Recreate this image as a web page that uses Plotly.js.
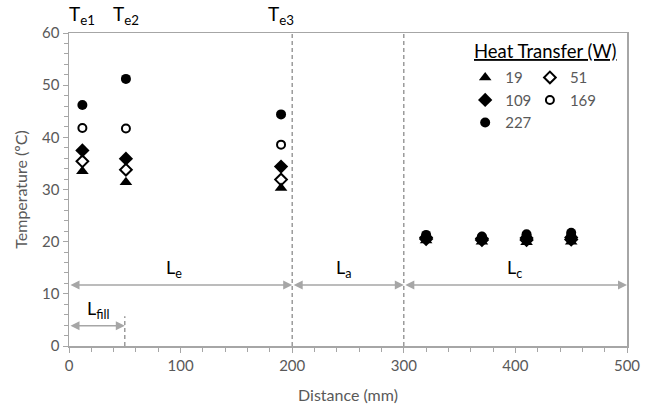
<!DOCTYPE html>
<html>
<head>
<meta charset="utf-8">
<script src="https://cdn.plot.ly/plotly-3.0.1.min.js"></script>
<style>html,body{margin:0;padding:0;background:#fff}#chart{width:651px;height:408px}</style>
</head>
<body>
<div id="chart"></div>
<script>
// Sensor positions (mm)
const positions = [12, 51, 190, 320, 370, 410, 450];
// Heat transfer levels (W)
const heatLevels = ["19", "51", "109", "169", "227"];
// Temperatures (°C) for each heat level, at each position
const temp19  = [33.5, 31.4, 30.3, 20.2, 20.0, 19.9, 20.0];
const temp51  = [35.4, 33.8, 31.9, 20.5, 20.3, 20.3, 20.4];
const temp109 = [37.5, 35.9, 34.4, 20.8, 20.6, 20.7, 20.8];
const temp169 = [41.8, 41.7, 38.6, 21.0, 20.8, 21.0, 21.2];
const temp227 = [46.2, 51.2, 44.4, 21.3, 21.0, 21.4, 21.7];
// Section boundaries (mm) and labels
const sectionBounds = [0, 200, 300, 500];
const sectionLabels = ["L<sub>e</sub>", "L<sub>a</sub>", "L<sub>c</sub>"];
const fillBounds = [0, 50];
const fillLabel = "L<sub>fill</sub>";
const sensorLabels = ["T<sub>e1</sub>", "T<sub>e2</sub>", "T<sub>e3</sub>"];
const sensorPos = [12, 51, 190];

const gray = '#595959';
const lineGray = '#a6a6a6';
const font = "Lato, 'Open Sans', sans-serif";

const series = [
  {name: heatLevels[0], y: temp19,  symbol: 'triangle-up', size: 11, legend: 'legend'},
  {name: heatLevels[1], y: temp51,  symbol: 'diamond-open', size: 9, legend: 'legend2'},
  {name: heatLevels[2], y: temp109, symbol: 'diamond', size: 11, legend: 'legend'},
  {name: heatLevels[3], y: temp169, symbol: 'circle-open', size: 8, legend: 'legend2'},
  {name: heatLevels[4], y: temp227, symbol: 'circle', size: 10, legend: 'legend'}
];

const traces = series.map(s => ({
  type: 'scatter', mode: 'markers', x: positions, y: s.y, name: s.name,
  legend: s.legend,
  marker: {symbol: s.symbol, size: s.size, color: '#000', line: {color: '#000', width: s.symbol.includes('open') ? 2 : 0}}
}));

const shapes = [];
[sectionBounds[1], sectionBounds[2]].forEach(b => shapes.push({
  type: 'line', xref: 'x', yref: 'y', x0: b, x1: b, y0: 0, y1: 60,
  line: {color: '#8c8c8c', width: 1.3, dash: '4px,3px'}
}));
shapes.push({type: 'line', xref: 'x', yref: 'y', x0: fillBounds[1], x1: fillBounds[1], y0: 0, y1: 5.7,
  line: {color: '#8c8c8c', width: 1.3, dash: '4px,3px'}});

const annotations = [];
const arrowY = 11.7, fillY = 3.9;
function dblArrow(x0, x1, y) {
  annotations.push({xref: 'x', yref: 'y', axref: 'x', ayref: 'y', x: x1, y: y, ax: x0, ay: y,
    text: '', showarrow: true, arrowside: 'end+start', arrowhead: 2, arrowsize: 1.2, arrowwidth: 1.5, arrowcolor: lineGray});
}
for (let i = 0; i < 3; i++) {
  dblArrow(sectionBounds[i], sectionBounds[i + 1], arrowY);
}
dblArrow(fillBounds[0], fillBounds[1], fillY);
const labelX = [94, 246, 399];
sectionLabels.forEach((t, i) => annotations.push({xref: 'x', yref: 'y', x: labelX[i], y: arrowY + 0.3,
  yanchor: 'bottom', text: t, showarrow: false, font: {family: font, size: 18, color: '#000'}}));
annotations.push({xref: 'x', yref: 'y', x: 26, y: fillY + 0.4, yanchor: 'bottom', text: fillLabel,
  showarrow: false, font: {family: font, size: 18, color: '#000'}});
sensorLabels.forEach((t, i) => annotations.push({xref: 'x', yref: 'paper', x: sensorPos[i], y: 1.0, yanchor: 'bottom',
  yshift: 3, text: t, showarrow: false, font: {family: font, size: 19, color: '#000'}}));
annotations.push({xref: 'paper', yref: 'paper', x: 0.986, y: 0.985, xanchor: 'right', yanchor: 'top',
  text: '<u>Heat Transfer (W)</u>', showarrow: false, font: {family: font, size: 18.5, color: '#000'}});

const legendCommon = {
  bgcolor: 'rgba(0,0,0,0)', font: {family: font, size: 15, color: gray},
  itemwidth: 30, tracegroupgap: 0, yanchor: 'top', xanchor: 'left', itemclick: false
};

const layout = {
  width: 651, height: 408,
  margin: {l: 69, r: 24, t: 33, b: 62},
  paper_bgcolor: '#fff', plot_bgcolor: '#fff',
  font: {family: font, color: gray},
  showlegend: true,
  legend: Object.assign({}, legendCommon, {x: 0.71, y: 0.91}),
  legend2: Object.assign({}, legendCommon, {x: 0.826, y: 0.91}),
  xaxis: {
    range: [0, 500], dtick: 100, tick0: 0, showgrid: false, zeroline: false,
    showline: true, linecolor: lineGray, linewidth: 1.5, mirror: true,
    ticks: 'outside', ticklen: 5, tickcolor: lineGray, tickwidth: 1,
    minor: {dtick: 20, ticks: 'outside', ticklen: 4, tickcolor: lineGray, showgrid: false},
    tickfont: {family: font, size: 15, color: gray},
    title: {text: 'Distance (mm)', font: {family: font, size: 16, color: gray}, standoff: 17}
  },
  yaxis: {
    range: [0, 60], dtick: 10, tick0: 0, showgrid: false, zeroline: false,
    showline: true, linecolor: lineGray, linewidth: 1.5, mirror: true,
    ticks: 'outside', ticklen: 5, tickcolor: lineGray, tickwidth: 1,
    minor: {dtick: 2, ticks: 'outside', ticklen: 4, tickcolor: lineGray, showgrid: false},
    tickfont: {family: font, size: 15, color: gray},
    title: {text: 'Temperature (ºC)', font: {family: font, size: 16, color: gray}, standoff: 10}
  },
  shapes: shapes,
  annotations: annotations
};

Plotly.newPlot('chart', traces, layout, {displayModeBar: false, staticPlot: true});
</script>
</body>
</html>
